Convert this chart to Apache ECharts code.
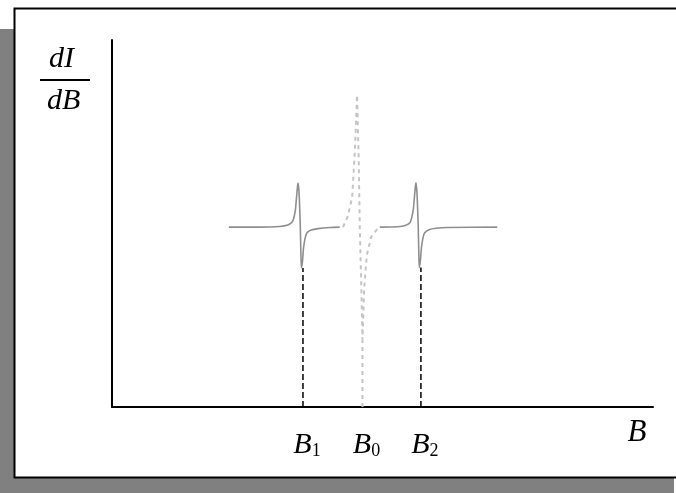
<!DOCTYPE html>
<html>
<head>
<meta charset="utf-8">
<script src="https://cdn.jsdelivr.net/npm/echarts@6/dist/echarts.min.js"></script>
<style>
  html, body { margin: 0; padding: 0; background: #fff; }
  #chart { width: 676px; height: 493px; }
</style>
</head>
<body>
<div id="chart"></div>
<script>
// Field positions of the two hyperfine lines and the unsplit line (arbitrary field units, 0-100)
const fieldMarks = [35.3, 46.3, 57.1];
const markSubs = ['1', '0', '2'];

// Low-field hyperfine line (derivative signal dI/dB)
const lowB = [21.6, 27.4, 31.0, 32.5, 33.3, 33.6, 33.9, 34.1, 34.3, 34.4, 34.6, 34.8, 34.9, 35.0, 35.2, 35.4, 35.7, 36.0, 36.8, 38.1, 40.3, 42.1];
const lowI = [49.0, 49.0, 49.2, 49.6, 50.4, 51.5, 53.7, 57.0, 60.2, 61.0, 57.8, 49.6, 42.8, 37.9, 39.5, 43.3, 46.0, 47.4, 48.2, 48.6, 48.9, 49.0];

// High-field hyperfine line
const highB = [49.5, 52.8, 54.3, 55.1, 55.4, 55.7, 55.9, 56.1, 56.2, 56.4, 56.6, 56.7, 56.8, 57.0, 57.2, 57.5, 57.8, 58.6, 59.9, 62.1, 71.2];
const highI = [49.0, 49.1, 49.5, 50.3, 51.6, 53.9, 57.2, 60.4, 61.1, 57.6, 49.4, 42.6, 38.0, 39.8, 43.5, 46.2, 47.5, 48.3, 48.7, 48.9, 49.0];

// Unsplit line at B0 (faint)
const centreB = [42.7, 43.6, 44.4, 44.9, 45.3, 45.6, 45.8, 46.1, 46.3, 46.6, 47.1, 47.9, 49.2];
const centreI = [49.0, 52.0, 57.2, 70.0, 85.0, 67.3, 49.0, 31.9, 18.3, 31.9, 41.4, 46.3, 48.8];

// Heights where the drop lines stop (bottom of each line's trough)
const dropTops = [37.9, 18.3, 38.0];

const zip = (xs, ys) => xs.map((x, i) => [x, ys[i]]);

const serif = '"Liberation Serif", "DejaVu Serif", serif';

const chart = echarts.init(document.getElementById('chart'), null, { renderer: 'canvas' });

const dropSeries = fieldMarks.map((b, i) => ({
  type: 'line',
  data: [[b, 0], [b, dropTops[i]]],
  symbol: 'none',
  silent: true,
  lineStyle: i === 1
    ? { color: '#c4c4c4', width: 2, type: [4, 4] }
    : { color: '#000', width: 1.5, type: [6, 3] },
  z: 1
}));

chart.setOption({
  animation: false,
  backgroundColor: '#fff',
  graphic: [
    // drop shadow and frame
    { type: 'rect', z: -10, shape: { x: 0, y: 29, width: 15, height: 464 }, style: { fill: '#808080' } },
    { type: 'rect', z: -10, shape: { x: 0, y: 478, width: 674, height: 15 }, style: { fill: '#808080' } },
    { type: 'rect', z: -9, shape: { x: 14.5, y: 8.5, width: 700, height: 469 }, style: { fill: '#fff', stroke: '#000', lineWidth: 2 } },
    // dI/dB ordinate label
    { type: 'text', z: 5, left: 49, top: 44, style: { text: 'dI', font: 'italic 30px ' + serif, fill: '#000' } },
    { type: 'line', z: 5, shape: { x1: 40, y1: 80, x2: 90, y2: 80 }, style: { stroke: '#000', lineWidth: 2 } },
    { type: 'text', z: 5, left: 47, top: 86, style: { text: 'dB', font: 'italic 30px ' + serif, fill: '#000' } }
  ],
  grid: { left: 112, right: 23, top: 40, bottom: 86, containLabel: false },
  xAxis: {
    type: 'value',
    min: 0,
    max: 100,
    name: 'B',
    nameLocation: 'end',
    nameGap: -16,
    nameTextStyle: {
      fontFamily: serif, fontStyle: 'italic', fontSize: 31, color: '#000',
      align: 'center', verticalAlign: 'top', padding: [10, 0, 0, 0]
    },
    axisLine: { show: true, lineStyle: { color: '#000', width: 2 } },
    axisTick: { show: false },
    splitLine: { show: false },
    axisLabel: {
      show: true,
      customValues: fieldMarks,
      margin: 21,
      formatter: (v) => {
        const i = fieldMarks.indexOf(v);
        return '{b|B}{s|' + (i >= 0 ? markSubs[i] : '') + '}';
      },
      rich: {
        b: { fontFamily: serif, fontStyle: 'italic', fontSize: 30, color: '#000', verticalAlign: 'bottom', lineHeight: 32, padding: [0, 0, 0, 8] },
        s: { fontFamily: serif, fontSize: 18, color: '#000', verticalAlign: 'bottom', lineHeight: 28 }
      }
    }
  },
  yAxis: {
    type: 'value',
    min: 0,
    max: 100,
    axisLine: { show: true, lineStyle: { color: '#000', width: 2 } },
    axisTick: { show: false },
    axisLabel: { show: false },
    splitLine: { show: false }
  },
  series: [
    ...dropSeries,
    {
      type: 'line',
      data: zip(centreB, centreI),
      symbol: 'none',
      silent: true,
      lineStyle: { color: '#c4c4c4', width: 2, type: [4, 4] },
      z: 2
    },
    {
      type: 'line',
      data: zip(lowB, lowI),
      symbol: 'none',
      smooth: 0.2,
      lineStyle: { color: '#8e8e8e', width: 1.6 },
      z: 3
    },
    {
      type: 'line',
      data: zip(highB, highI),
      symbol: 'none',
      smooth: 0.2,
      lineStyle: { color: '#8e8e8e', width: 1.6 },
      z: 3
    }
  ]
});
</script>
</body>
</html>
